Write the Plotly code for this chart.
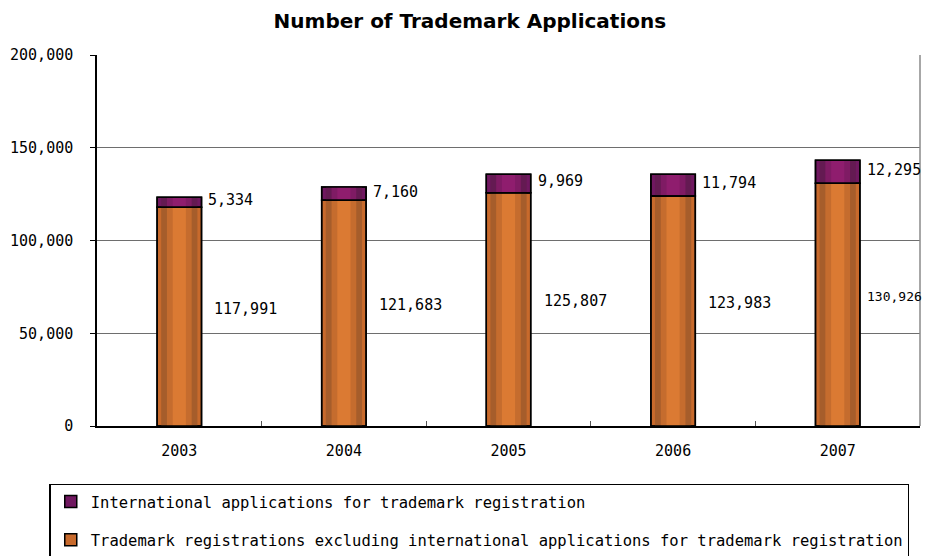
import plotly.graph_objects as go

years = ["2003", "2004", "2005", "2006", "2007"]
domestic = [117991, 121683, 125807, 123983, 130926]
international = [5334, 7160, 9969, 11794, 12295]
domestic_labels = ["117,991", "121,683", "125,807", "123,983", "130,926"]
international_labels = ["5,334", "7,160", "9,969", "11,794", "12,295"]
y_ticks = [0, 50000, 100000, 150000, 200000]
y_tick_labels = ["0", "50,000", "100,000", "150,000", "200,000"]

name_intl = "International applications for trademark registration"
name_dom = "Trademark registrations excluding international applications for trademark registration"

MONO = "DejaVu Sans Mono"
W = 0.27
orange_layers = [(W, "#c86a2c"), (0.22, "#a65d2b"), (0.15, "#c56c2e"), (0.08, "#db7a33")]
purple_layers = [(W, "#701860"), (0.22, "#641a52"), (0.15, "#7f1b64"), (0.08, "#8f1d6e")]

fig = go.Figure()

for i, (w, c) in enumerate(orange_layers):
    fig.add_trace(go.Bar(
        x=years, y=domestic, width=w, name=name_dom,
        marker=dict(color=c, line=dict(color="black", width=1.5) if i == 0 else dict(width=0)),
        showlegend=(i == 0), legendgroup="dom", legendrank=2,
        hoverinfo="skip"))
for i, (w, c) in enumerate(purple_layers):
    fig.add_trace(go.Bar(
        x=years, y=international, base=domestic, width=w, name=name_intl,
        marker=dict(color=c, line=dict(color="black", width=1.5) if i == 0 else dict(width=0)),
        showlegend=(i == 0), legendgroup="intl", legendrank=1,
        hoverinfo="skip"))

# outlines on top
fig.add_trace(go.Bar(x=years, y=domestic, width=W,
                     marker=dict(color="rgba(0,0,0,0)", line=dict(color="black", width=1.5)),
                     showlegend=False, hoverinfo="skip"))
fig.add_trace(go.Bar(x=years, y=international, base=domestic, width=W,
                     marker=dict(color="rgba(0,0,0,0)", line=dict(color="black", width=1.5)),
                     showlegend=False, hoverinfo="skip"))

# labels (category index positions)
for i, yr in enumerate(years):
    fig.add_annotation(x=i, y=domestic[i] + international[i] / 2, text=international_labels[i],
                       showarrow=False, xanchor="left", xshift=27, yshift=2,
                       font=dict(family=MONO, size=15, color="black"))
    fig.add_annotation(x=i, y=domestic[i] / 2, text=domestic_labels[i],
                       showarrow=False, xanchor="left", xshift=(27 if i == 4 else 33), yshift=8,
                       font=dict(family=MONO, size=(13 if i == 4 else 15), color="black"))

# right frame (gray)
fig.add_shape(type="line", xref="paper", yref="paper", x0=1, x1=1, y0=0, y1=1,
              line=dict(color="#8a8a8a", width=1.5))

fig.update_layout(
    width=925, height=556,
    margin=dict(l=97, r=5, t=55, b=130, autoexpand=False),
    paper_bgcolor="white", plot_bgcolor="white",
    barmode="overlay",
    title=dict(text="<b>Number of Trademark Applications</b>", x=0.508, xanchor="center",
               y=0.963, yanchor="middle",
               font=dict(family="DejaVu Sans", size=20, color="black")),
    xaxis=dict(type="category", range=[-0.5, 4.5], showline=True, linecolor="black", linewidth=1.5,
               ticks="inside", tickson="boundaries", ticklen=5, tickcolor="#555",
               showgrid=False, tickfont=dict(family=MONO, size=15, color="black"),
               ticklabelstandoff=10),
    yaxis=dict(range=[0, 200000], tickvals=y_ticks, ticktext=y_tick_labels,
               showline=True, linecolor="black", linewidth=1.5,
               ticks="outside", ticklen=5, tickcolor="black",
               showgrid=True, gridcolor="#6e6e6e", gridwidth=1.2,
               zeroline=False,
               tickfont=dict(family=MONO, size=15, color="black"),
               ticklabelstandoff=14),
    legend=dict(x=-0.058, y=-0.155, xanchor="left", yanchor="top",
                bordercolor="black", borderwidth=1.5, bgcolor="white",
                font=dict(family=MONO, size=15.5, color="black"),
                traceorder="grouped", tracegroupgap=15),
    showlegend=True,
)

fig.write_html("out.html", config={"responsive": False, "displayModeBar": False},
               post_script="document.body.style.margin='0';document.body.style.overflow='hidden';")
